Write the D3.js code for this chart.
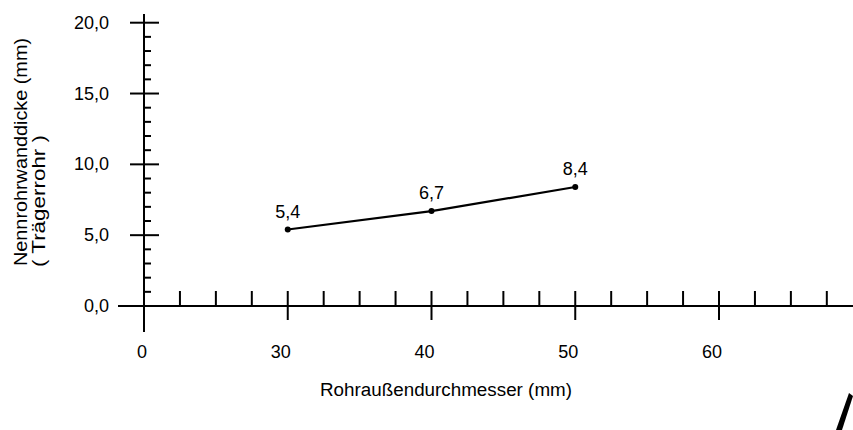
<!DOCTYPE html>
<html>
<head>
<meta charset="utf-8">
<script src="https://cdn.jsdelivr.net/npm/d3@7"></script>
<style>
  body { margin: 0; background: #fff; }
  text { font-family: "Liberation Sans", Arial, sans-serif; fill: #000; }
</style>
</head>
<body>
<div id="chart"></div>
<script>
// data
var diameters = [30, 40, 50];
var wallThickness = [5.4, 6.7, 8.4];
var pointLabels = ["5,4", "6,7", "8,4"];
var xTickValues = [30, 40, 50, 60];
var xTickLabels = ["30", "40", "50", "60"];
var yTickValues = [0, 5, 10, 15, 20];
var yTickLabels = ["0,0", "5,0", "10,0", "15,0", "20,0"];

var svgWidth = 853;
var svgHeight = 430;

var svg = d3.select("#chart")
  .append("svg")
  .attr("width", svgWidth)
  .attr("height", svgHeight);

// the axis origin stands for 20 mm but is labelled "0"
var xOrigin = 20;
var xScale = d3.scaleLinear()
  .domain([20, 60])
  .range([144, 719]);

var yScale = d3.scaleLinear()
  .domain([0, 20])
  .range([306, 22.7]);

var x0 = xScale(xOrigin);
var y0 = yScale(0);

var axes = svg.append("g")
  .attr("stroke", "#000")
  .attr("stroke-width", 2);

// y axis line
axes.append("line")
  .attr("x1", x0).attr("x2", x0)
  .attr("y1", 14).attr("y2", 332);

// x axis line
axes.append("line")
  .attr("x1", 118).attr("x2", svgWidth)
  .attr("y1", y0).attr("y2", y0);

// y minor ticks, every 1 mm, to the right
axes.selectAll(".yminor")
  .data(d3.range(1, 21).filter(d => d % 5 !== 0))
  .enter()
  .append("line")
  .attr("x1", x0).attr("x2", x0 + 7)
  .attr("y1", d => yScale(d)).attr("y2", d => yScale(d));

// y major ticks crossing the axis
axes.selectAll(".ymajor")
  .data(yTickValues.filter(d => d > 0))
  .enter()
  .append("line")
  .attr("x1", x0 - 14).attr("x2", x0 + 15)
  .attr("y1", d => yScale(d)).attr("y2", d => yScale(d));

// x minor ticks, every 2.5 mm, upwards
axes.selectAll(".xminor")
  .data(d3.range(22.5, 70, 2.5).filter(d => d % 10 !== 0))
  .enter()
  .append("line")
  .attr("x1", d => xScale(d)).attr("x2", d => xScale(d))
  .attr("y1", y0).attr("y2", y0 - 15);

// x major ticks crossing the axis
axes.selectAll(".xmajor")
  .data(xTickValues)
  .enter()
  .append("line")
  .attr("x1", d => xScale(d)).attr("x2", d => xScale(d))
  .attr("y1", y0 - 15).attr("y2", y0 + 14);

// tick labels
svg.selectAll(".ylabel")
  .data(yTickValues)
  .enter()
  .append("text")
  .attr("x", 109)
  .attr("y", d => yScale(d) + 6)
  .attr("text-anchor", "end")
  .attr("font-size", "18px")
  .text((d, i) => yTickLabels[i]);

svg.append("text")
  .attr("x", x0 - 2)
  .attr("y", 358)
  .attr("text-anchor", "middle")
  .attr("font-size", "18px")
  .text("0");

svg.selectAll(".xlabel")
  .data(xTickValues)
  .enter()
  .append("text")
  .attr("x", d => xScale(d) - 7)
  .attr("y", 358)
  .attr("text-anchor", "middle")
  .attr("font-size", "18px")
  .text((d, i) => xTickLabels[i]);

// axis titles
svg.append("text")
  .attr("x", 320)
  .attr("y", 396)
  .attr("font-size", "18px")
  .attr("textLength", 252)
  .attr("lengthAdjust", "spacingAndGlyphs")
  .text("Rohraußendurchmesser (mm)");

svg.append("text")
  .attr("transform", "translate(27, 266) rotate(-90)")
  .attr("font-size", "18px")
  .attr("textLength", 228)
  .attr("lengthAdjust", "spacingAndGlyphs")
  .text("Nennrohrwanddicke (mm)");

svg.append("text")
  .attr("transform", "translate(45, 267) rotate(-90)")
  .attr("font-size", "18px")
  .attr("textLength", 132)
  .attr("lengthAdjust", "spacingAndGlyphs")
  .text("( Trägerrohr )");

// data line
var points = diameters.map((d, i) => [d, wallThickness[i]]);

var line = d3.line()
  .x(d => xScale(d[0]))
  .y(d => yScale(d[1]));

svg.append("path")
  .datum(points)
  .attr("d", line)
  .attr("fill", "none")
  .attr("stroke", "#000")
  .attr("stroke-width", 2.2);

svg.selectAll(".dot")
  .data(points)
  .enter()
  .append("circle")
  .attr("cx", d => xScale(d[0]))
  .attr("cy", d => yScale(d[1]))
  .attr("r", 3)
  .attr("fill", "#000");

svg.selectAll(".plabel")
  .data(points)
  .enter()
  .append("text")
  .attr("x", d => xScale(d[0]))
  .attr("y", d => yScale(d[1]) - 12)
  .attr("text-anchor", "middle")
  .attr("font-size", "18px")
  .text((d, i) => pointLabels[i]);

// scan mark at the lower right corner
svg.append("path")
  .attr("d", "M849,393 L853,396 L842,430 L836,430 Z")
  .attr("fill", "#000");
</script>
</body>
</html>
